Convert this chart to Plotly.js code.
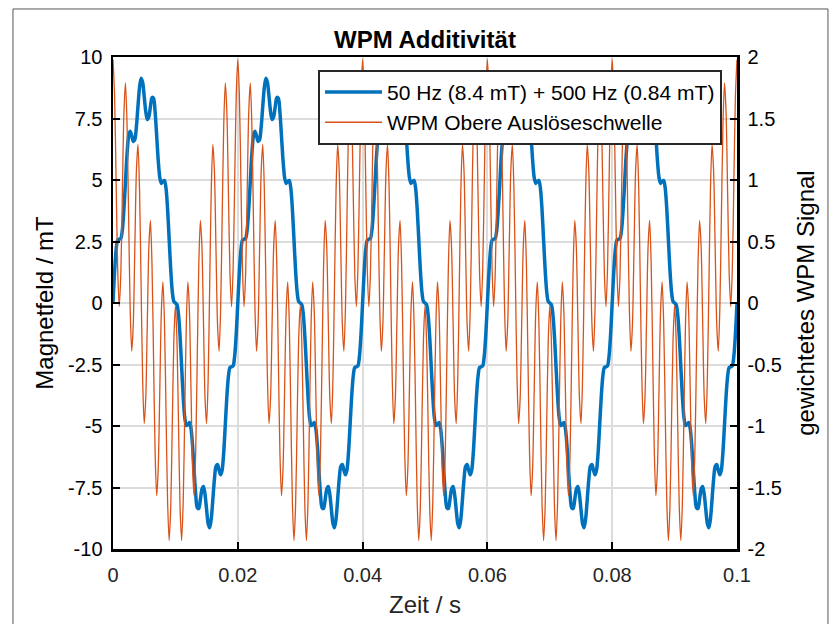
<!DOCTYPE html>
<html>
<head>
<meta charset="utf-8">
<script src="https://cdn.plot.ly/plotly-3.0.1.min.js"></script>
<style>html,body{margin:0;padding:0;background:#fff;}#chart{width:832px;height:624px;}</style>
</head>
<body>
<div id="chart"></div>
<script>
const sampleStep = 0.00025;
const periodCount = 5;
const bluePeriod = [0, 1.253, 2.154, 2.555, 2.596, 2.621, 2.974, 3.795, 4.937, 6.049,
  6.780, 6.981, 6.796, 6.568, 6.644, 7.167, 7.989, 8.762, 9.137, 8.968,
  8.4, 7.780, 7.457, 7.574, 7.989, 8.355, 8.324, 7.756, 6.796, 5.793,
  5.100, 4.861, 4.937, 4.983, 4.654, 3.809, 2.596, 1.367, 0.474, 0.065,
  0, -0.065, -0.474, -1.367, -2.596, -3.809, -4.654, -4.983, -4.937, -4.861,
  -5.100, -5.793, -6.796, -7.756, -8.324, -8.355, -7.989, -7.574, -7.457, -7.780,
  -8.4, -8.968, -9.137, -8.762, -7.989, -7.167, -6.644, -6.568, -6.796, -6.981,
  -6.780, -6.049, -4.937, -3.795, -2.974, -2.621, -2.596, -2.555, -2.154, -1.253];
const orangePeriod = [1.980, 1.690, 0.988, 0.279, -0.029, 0.231, 0.891, 1.546, 1.789, 1.453,
  0.707, -0.044, -0.392, -0.171, 0.454, 1.076, 1.289, 0.926, 0.156, -0.615,
  -0.980, -0.772, -0.156, 0.460, 0.671, 0.310, -0.454, -1.216, -1.568, -1.342,
  -0.707, -0.067, 0.171, -0.160, -0.891, -1.617, -1.931, -1.665, -0.988, -0.304,
  -0.020, -0.304, -0.988, -1.665, -1.931, -1.617, -0.891, -0.160, 0.171, -0.067,
  -0.707, -1.342, -1.568, -1.216, -0.454, 0.310, 0.671, 0.460, -0.156, -0.772,
  -0.980, -0.615, 0.156, 0.926, 1.289, 1.076, 0.454, -0.171, -0.392, -0.044,
  0.707, 1.453, 1.789, 1.546, 0.891, 0.231, -0.029, 0.279, 0.988, 1.690];

const seriesNames = ["50 Hz (8.4 mT) + 500 Hz (0.84 mT)", "WPM Obere Auslöseschwelle"];
const xTickVals = [0, 0.02, 0.04, 0.06, 0.08, 0.1];
const xTickText = ["0", "0.02", "0.04", "0.06", "0.08", "0.1"];
const yLeftTickVals = [-10, -7.5, -5, -2.5, 0, 2.5, 5, 7.5, 10];
const yLeftTickText = ["-10", "-7.5", "-5", "-2.5", "0", "2.5", "5", "7.5", "10"];
const yRightTickVals = [-2, -1.5, -1, -0.5, 0, 0.5, 1, 1.5, 2];
const yRightTickText = ["-2", "-1.5", "-1", "-0.5", "0", "0.5", "1", "1.5", "2"];

// tile the period over the time window
const n = bluePeriod.length;
const t = [], blue = [], orange = [];
for (let i = 0; i <= n * periodCount; i++) {
  t.push(+(i * sampleStep).toFixed(5));
  blue.push(bluePeriod[i % n]);
  orange.push(orangePeriod[i % n]);
}

const FONT = 'Liberation Sans, Arial, sans-serif';
const traces = [
  {x: t, y: blue, name: seriesNames[0], type: 'scatter', mode: 'lines', yaxis: 'y',
   line: {color: '#0072BD', width: 3.5, shape: 'spline', smoothing: 0.8}, legendgroup: 'a'},
  {x: t, y: orange, name: seriesNames[1], type: 'scatter', mode: 'lines', yaxis: 'y2',
   line: {color: '#D95319', width: 1.3, shape: 'spline', smoothing: 0.8}, legendgroup: 'b'}
];

const layout = {
  width: 832, height: 624,
  margin: {l: 113, r: 95, t: 57, b: 75},
  paper_bgcolor: '#fff', plot_bgcolor: '#fff',
  font: {family: FONT, size: 20, color: '#262626'},
  showlegend: true,
  title: {text: '<b>WPM Additivität</b>', font: {family: FONT, size: 24, color: '#000'},
          x: 0.5, xref: 'paper', xanchor: 'center', y: 0.937, yanchor: 'middle'},
  xaxis: {range: [0, 0.1], tickvals: xTickVals, ticktext: xTickText,
          showgrid: true, gridcolor: '#dcdcdc', gridwidth: 2, zeroline: false,
          showline: true, linecolor: '#000', linewidth: 2.5, mirror: true,
          ticks: 'inside', ticklen: 7, tickwidth: 2, tickcolor: '#000',
          tickfont: {size: 20, color: '#262626'}, ticklabelstandoff: 6,
          title: {text: 'Zeit / s', font: {size: 24, color: '#262626'}, standoff: 12}},
  yaxis: {range: [-10, 10], tickvals: yLeftTickVals, ticktext: yLeftTickText,
          showgrid: true, gridcolor: '#dcdcdc', gridwidth: 2, zeroline: false,
          showline: true, linecolor: '#000', linewidth: 2.5,
          ticks: 'inside', ticklen: 7, tickwidth: 2, tickcolor: '#000',
          tickfont: {size: 20, color: '#000'}, ticklabelstandoff: 4,
          title: {text: 'Magnetfeld / mT', font: {size: 24, color: '#000'}, standoff: 8}},
  yaxis2: {range: [-2, 2], tickvals: yRightTickVals, ticktext: yRightTickText,
           overlaying: 'y', side: 'right', showgrid: false, zeroline: false,
           showline: true, linecolor: '#000', linewidth: 2.5,
           ticks: 'inside', ticklen: 7, tickwidth: 2, tickcolor: '#000',
           tickfont: {size: 20, color: '#000'}, ticklabelstandoff: 4,
           title: {text: 'gewichtetes WPM Signal', font: {size: 24, color: '#000'}, standoff: 16}},
  legend: {x: 0.976, xanchor: 'right', y: 0.974, yanchor: 'top',
           bgcolor: '#fff', bordercolor: '#262626', borderwidth: 2,
           font: {size: 21, color: '#000'}, itemwidth: 57, tracegroupgap: 0,
           traceorder: 'normal'},
  shapes: [{type: 'rect', xref: 'paper', yref: 'paper', x0: -0.1603, x1: 1.1458, y0: -0.2, y1: 1.0976,
            line: {color: '#555', width: 1}, fillcolor: 'rgba(0,0,0,0)', layer: 'below'}]
};

Plotly.newPlot('chart', traces, layout, {staticPlot: true, displayModeBar: false});
</script>
</body>
</html>
